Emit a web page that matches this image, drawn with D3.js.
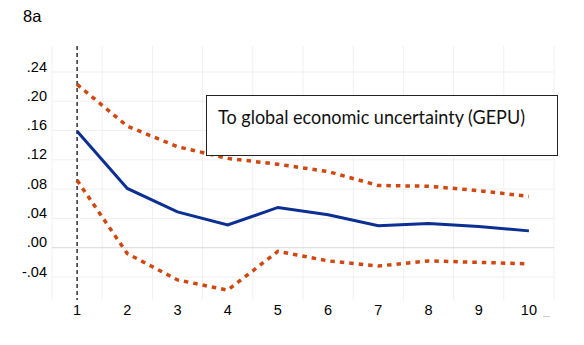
<!DOCTYPE html>
<html>
<head>
<meta charset="utf-8">
<script src="https://cdn.jsdelivr.net/npm/d3@7"></script>
<style>
  body { margin: 0; background: #fff; }
  svg { display: block; }
</style>
</head>
<body>
<div id="chart"></div>
<script>
// -- data --
var horizons = [1, 2, 3, 4, 5, 6, 7, 8, 9, 10];
var response = [0.159, 0.081, 0.049, 0.031, 0.055, 0.045, 0.030, 0.033, 0.029, 0.023];
var upper    = [0.223, 0.166, 0.138, 0.122, 0.114, 0.104, 0.085, 0.084, 0.078, 0.070];
var lower    = [0.092, -0.008, -0.044, -0.058, -0.005, -0.018, -0.025, -0.018, -0.020, -0.022];
var yTicks   = [-0.04, 0.00, 0.04, 0.08, 0.12, 0.16, 0.20, 0.24];
var legendText = "To global economic uncertainty (GEPU)";

var width = 584, height = 345;

var svg = d3.select("#chart")
  .append("svg")
  .attr("width", width)
  .attr("height", height);

// == scales ==
var x = d3.scaleLinear().domain([0.5, 10.5]).range([52, 554]);
var y = d3.scaleLinear().domain([-0.04, 0.24]).range([277, 72]);
var top_ = 46, bottom_ = 300;

// -- grid --
var gridX = d3.range(0.5, 11, 1);
svg.append("g").selectAll("line")
  .data(gridX)
  .enter().append("line")
  .attr("x1", function (d) { return x(d); })
  .attr("x2", function (d) { return x(d); })
  .attr("y1", top_)
  .attr("y2", bottom_)
  .attr("stroke", "#f0f0f0")
  .attr("stroke-width", 1);

svg.append("g").selectAll("line")
  .data(yTicks)
  .enter().append("line")
  .attr("x1", x(0.5))
  .attr("x2", x(10.5))
  .attr("y1", function (d) { return y(d); })
  .attr("y2", function (d) { return y(d); })
  .attr("stroke", function (d) { return d === 0 ? "#d9d9d9" : "#efefef"; })
  .attr("stroke-width", 1);

// -- axis labels --
var fmt = function (d) {
  var s = d3.format(".2f")(Math.abs(d)).replace(/^0/, "");
  return (d < 0 ? "-" : "") + s;
};
svg.append("g").selectAll("text")
  .data(yTicks)
  .enter().append("text")
  .attr("x", 47)
  .attr("y", function (d) { return y(d) - 0.5; })
  .attr("text-anchor", "end")
  .attr("fill", "#000")
  .style("font-family", "Liberation Sans, Arial, sans-serif")
  .style("font-size", "14.5px")
  .text(fmt);

svg.append("g").selectAll("text")
  .data(horizons)
  .enter().append("text")
  .attr("x", function (d) { return x(d); })
  .attr("y", 314.5)
  .attr("text-anchor", "middle")
  .attr("fill", "#000")
  .style("font-family", "Liberation Sans, Arial, sans-serif")
  .style("font-size", "14.5px")
  .text(function (d) { return d; });

// dashed marker at horizon 1
svg.append("line")
  .attr("x1", x(1)).attr("x2", x(1))
  .attr("y1", top_).attr("y2", bottom_)
  .attr("stroke", "#111")
  .attr("stroke-width", 1.3)
  .attr("stroke-dasharray", "4,3");

// == lines ==
var line = function (vals) {
  return d3.line()
    .x(function (d, i) { return x(horizons[i]); })
    .y(function (d) { return y(d); })(vals);
};

svg.append("path")
  .attr("d", line(upper))
  .attr("fill", "none")
  .attr("stroke", "#d0470f")
  .attr("stroke-width", 3.5)
  .attr("stroke-dasharray", "4.5,5");

svg.append("path")
  .attr("d", line(lower))
  .attr("fill", "none")
  .attr("stroke", "#d0470f")
  .attr("stroke-width", 3.5)
  .attr("stroke-dasharray", "4.5,5");

svg.append("path")
  .attr("d", line(response))
  .attr("fill", "none")
  .attr("stroke", "#0b2f92")
  .attr("stroke-width", 3);

// == legend box ==
svg.append("rect")
  .attr("x", 206.5).attr("y", 95.5)
  .attr("width", 351).attr("height", 60)
  .attr("fill", "#fff")
  .attr("stroke", "#222")
  .attr("stroke-width", 1);

svg.append("text")
  .attr("x", 218)
  .attr("y", 124)
  .attr("textLength", 307)
  .attr("lengthAdjust", "spacingAndGlyphs")
  .style("font-family", "Lato, Open Sans, sans-serif")
  .style("font-size", "20px")
  .attr("fill", "#111")
  .text(legendText);

// title
svg.append("text")
  .attr("x", 23)
  .attr("y", 21.5)
  .style("font-family", "Liberation Sans, Arial, sans-serif")
  .style("font-size", "16.5px")
  .text("8a");

// small stray tick at bottom-right
svg.append("line")
  .attr("x1", 543).attr("x2", 550)
  .attr("y1", 316.5).attr("y2", 316.5)
  .attr("stroke", "#ccc");
</script>
</body>
</html>
